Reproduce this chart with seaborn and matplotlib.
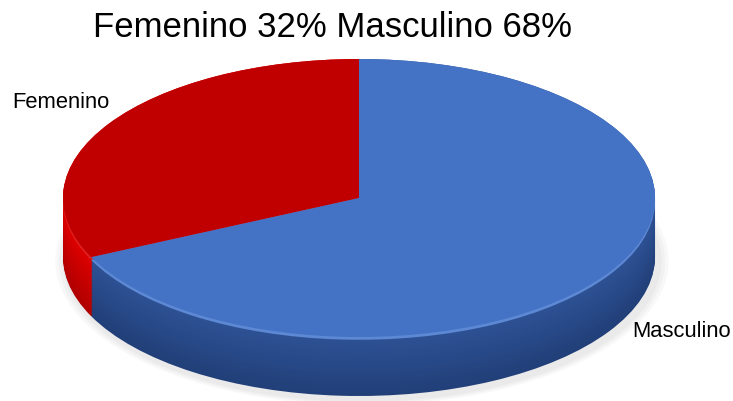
import matplotlib
matplotlib.use("Agg")
import matplotlib.pyplot as plt
import seaborn as sns
import numpy as np

labels = ["Femenino", "Masculino"]
values = [32, 68]
title = "Femenino 32% Masculino 68%"

top_colors = ["#c00000", "#4472c4"]
side_top = ["#e00000", "#2e5296"]
side_bottom = ["#b00000", "#213f78"]

sns.set_theme(style="white")
plt.rcParams["font.family"] = ["Liberation Sans", "DejaVu Sans"]

W, H = 733, 402
fig = plt.figure(figsize=(W / 100, H / 100), dpi=100)
ax = fig.add_axes([0, 0, 1, 1])

# ellipse geometry in pixels
cx, cy = 359, 199          # center (from top)
rx, ry = 296, 139          # semi axes
depth = 59 / ry            # side thickness in units of ry

wp = dict(linewidth=0, edgecolor="none", antialiased=True)

# soft shadow under the pie
for k, a in enumerate([0.05, 0.05, 0.06]):
    ax.pie(values, startangle=90, radius=1.0 + 0.012 * (3 - k),
           center=(0.01, -depth - 0.03), colors=["#808080"] * 2,
           wedgeprops=dict(wp, alpha=a))

# side walls: stack of shifted pies, darker toward the bottom
n = 45
for i in range(n):
    t = i / (n - 1)
    cols = []
    for a, b in zip(side_bottom, side_top):
        ca = np.array(matplotlib.colors.to_rgb(a))
        cb = np.array(matplotlib.colors.to_rgb(b))
        cols.append(ca + (cb - ca) * t)
    ax.pie(values, startangle=90, center=(0, -depth * (1 - t)),
           colors=cols, wedgeprops=wp)

# light rim just under the top face
ax.pie(values, startangle=90, center=(0, -0.02),
       colors=["#e02020", "#5d88d4"], wedgeprops=wp)

# top face
ax.pie(values, startangle=90, center=(0, 0), colors=top_colors,
       wedgeprops=wp)

ax.set_aspect("auto")
ax.set_xlim(-cx / rx, (W - cx) / rx)
ax.set_ylim(-(H - cy) / ry, cy / ry)
ax.axis("off")

fig.text(332.5 / W, 1 - 37 / H, title, fontsize=25, ha="center",
         va="baseline", color="black")
fig.text(12 / W, 1 - 108 / H, labels[0], fontsize=15.8, ha="left",
         va="baseline", color="black")
fig.text(731 / W, 1 - 337 / H, labels[1], fontsize=15.8, ha="right",
         va="baseline", color="black")

fig.savefig("out.png", dpi=100, facecolor="white")
